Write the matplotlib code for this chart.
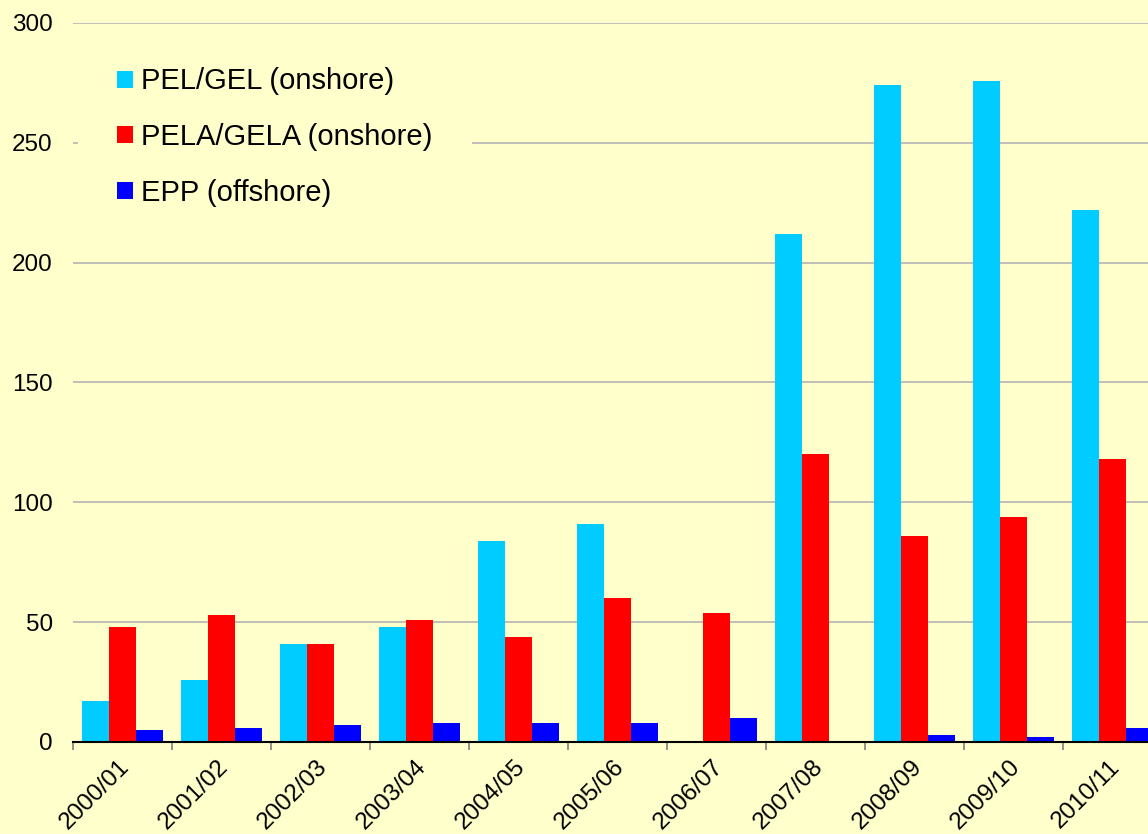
import matplotlib
matplotlib.use("Agg")
import matplotlib.pyplot as plt
import numpy as np
from matplotlib.transforms import ScaledTranslation

categories = ["2000/01", "2001/02", "2002/03", "2003/04", "2004/05", "2005/06",
              "2006/07", "2007/08", "2008/09", "2009/10", "2010/11"]
pel_gel = [17, 26, 41, 48, 84, 91, 0, 212, 274, 276, 222]
pela_gela = [48, 53, 41, 51, 44, 60, 54, 120, 86, 94, 118]
epp = [5, 6, 7, 8, 8, 8, 10, 0, 3, 2, 6]
series_names = ["PEL/GEL (onshore)", "PELA/GELA (onshore)", "EPP (offshore)"]
yticks = [0, 50, 100, 150, 200, 250, 300]

BG = "#FFFFCC"
COLORS = ["#00CCFF", "#FF0000", "#0000FF"]

plt.rcParams['font.family'] = ['Liberation Sans', 'DejaVu Sans']

W, H = 1148, 834
fig = plt.figure(figsize=(W / 100, H / 100), dpi=100, facecolor=BG)
left, right_px = 73, 73 + 11 * 99
bottom_px, top_px = 742, 23
ax = fig.add_axes([left / W, (H - bottom_px) / H, (right_px - left) / W, (bottom_px - top_px) / H])
ax.set_facecolor(BG)

x = np.arange(len(categories))
bw = 0.275
for i, (vals, name, c) in enumerate(zip([pel_gel, pela_gela, epp], series_names, COLORS)):
    ax.bar(x + (i - 1) * bw, vals, width=bw, color=c, label=name, zorder=3, linewidth=0)

ax.set_xlim(-0.5, len(categories) - 0.5)
ax.set_ylim(0, 300)
ax.set_yticks(yticks)
ax.set_yticklabels([str(v) for v in yticks], fontsize=17.5)
ax.tick_params(axis='y', length=0, pad=14.5)
ax.yaxis.grid(True, color="#B4B4B4", linewidth=1.2, zorder=0)
ax.set_axisbelow(True)

for s in ["top", "right", "left"]:
    ax.spines[s].set_visible(False)
ax.spines["bottom"].set_color("black")
ax.spines["bottom"].set_linewidth(1.5)
ax.spines["bottom"].set_zorder(4)

# Category boundary ticks
ax.set_xticks(np.arange(-0.5, len(categories) - 0.5, 1), minor=True)
ax.tick_params(axis='x', which='minor', length=6, color="#808080", width=1.2)
ax.set_xticks(x)
ax.set_xticklabels(categories, fontsize=17.5, rotation=45, ha='right', rotation_mode='anchor')
ax.tick_params(axis='x', which='major', length=0, pad=10)
offset = ScaledTranslation(-4 / 100, 0, fig.dpi_scale_trans)
for lbl in ax.get_xticklabels():
    lbl.set_transform(lbl.get_transform() + offset)

leg = ax.legend(loc='upper left', bbox_to_anchor=(78 / W, 1 - 28 / H),
                bbox_transform=fig.transFigure, fontsize=21, frameon=True,
                facecolor=BG, edgecolor='none', framealpha=1, fancybox=False,
                handlelength=0.52, handleheight=0.52, handletextpad=0.3,
                labelspacing=0.95, borderpad=1.35, borderaxespad=0)
leg.set_zorder(5)

fig.savefig("out.png", dpi=100, facecolor=BG)
